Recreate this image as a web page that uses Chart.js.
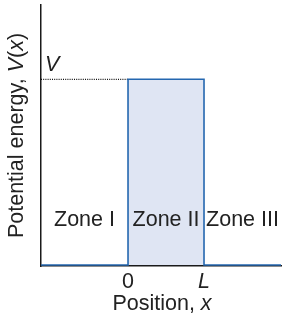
<!DOCTYPE html>
<html>
<head>
<meta charset="utf-8">
<script src="https://cdn.jsdelivr.net/npm/chart.js@4"></script>
<style>
html,body{margin:0;padding:0;background:#fff;}
#wrap{width:286px;height:321px;}
</style>
</head>
<body>
<div id="wrap"><canvas id="c" width="286" height="321"></canvas></div>
<script>
// Data
const xRange = [-1.145, 2.013];           // plotted position range (units of L)
const positions = [-1.145, 0, 0, 1, 1, 2.013];
const potential = [0, 0, 1, 1, 0, 0];      // V(x) in units of V
const barrierX = [0, 1];
const barrierV = [1, 1];
const levelX = [-1.145, 0];
const levelV = [1, 1];
const xTickValues = [0, 1];
const xTickLabels = ['0', 'L'];
const yTickValues = [1];
const yTickLabels = ['V'];
const zoneNames = ['Zone I', 'Zone II', 'Zone III'];
const zoneBounds = [-1.145, 0, 1, 2.013];
const zoneLabelV = 0.25;
const xTitleParts = [['Position, ', false], ['x', true]];
const yTitleParts = [['Potential energy, ', false], ['V', true], ['(', false], ['x', true], [')', false]];

const FONT = "'Liberation Sans', Arial, sans-serif";
const TXT = '#222';
const FS = 21.5;

function drawParts(ctx, parts, cx, cy, rot) {
  ctx.save();
  ctx.translate(cx, cy);
  if (rot) ctx.rotate(-Math.PI / 2);
  ctx.textBaseline = 'middle';
  ctx.textAlign = 'left';
  ctx.fillStyle = TXT;
  const fonts = parts.map(p => (p[1] ? 'italic ' : '') + FS + 'px ' + FONT);
  const widths = parts.map((p, i) => { ctx.font = fonts[i]; return ctx.measureText(p[0]).width; });
  let xx = -widths.reduce((a, b) => a + b, 0) / 2;
  parts.forEach((p, i) => { ctx.font = fonts[i]; ctx.fillText(p[0], xx, 0); xx += widths[i]; });
  ctx.restore();
}

const textPlugin = {
  id: 'texts',
  afterDatasetsDraw(chart) {
    const {ctx, scales:{x, y}, chartArea} = chart;
    ctx.save();
    ctx.font = FS + 'px ' + FONT;
    ctx.fillStyle = TXT;
    ctx.textAlign = 'center';
    ctx.textBaseline = 'middle';
    zoneNames.forEach((n, i) => {
      const cx = x.getPixelForValue((zoneBounds[i] + zoneBounds[i+1]) / 2);
      ctx.fillText(n, cx, y.getPixelForValue(zoneLabelV) + 1);
    });
    ctx.restore();
    drawParts(ctx, xTitleParts, (chartArea.left + chartArea.right) / 2 + 1, 304, false);
    drawParts(ctx, yTitleParts, 17, (chartArea.top + chartArea.bottom) / 2, true);
  }
};

new Chart(document.getElementById('c'), {
  type: 'line',
  data: {
    datasets: [
      {
        data: positions.map((p, i) => ({x: p, y: potential[i]})),
        borderColor: '#2467b0', borderWidth: 1.6, pointRadius: 0,
        tension: 0, fill: false, order: 0
      },
      {
        data: barrierX.map((p, i) => ({x: p, y: barrierV[i]})),
        borderColor: 'rgba(0,0,0,0)', borderWidth: 0, pointRadius: 0,
        backgroundColor: '#dfe5f3', fill: 'origin', order: 2
      },
      {
        data: levelX.map((p, i) => ({x: p, y: levelV[i]})),
        borderColor: '#111', borderWidth: 1.2, borderDash: [1, 1.2], pointRadius: 0,
        fill: false, order: 1
      }
    ]
  },
  options: {
    responsive: false,
    animation: false,
    events: [],
    layout: {padding: {top: 5, right: 5, left: 0, bottom: 0}},
    plugins: {legend: {display: false}, tooltip: {enabled: false}},
    scales: {
      x: {
        type: 'linear', min: xRange[0], max: xRange[1],
        grid: {display: false, drawTicks: false},
        border: {display: true, color: '#1a1a1a', width: 1.5},
        afterBuildTicks(s) { s.ticks = xTickValues.map(v => ({value: v})); },
        afterFit(s) { s.height = 55; s.paddingLeft = 0; s.paddingRight = 0; },
        ticks: {
          padding: 3, color: TXT, maxRotation: 0, autoSkip: false,
          font: (c) => ({family: FONT, size: FS, style: c.tick && c.tick.value === 1 ? 'italic' : 'normal'}),
          callback: (v) => { const i = xTickValues.indexOf(v); return i >= 0 ? xTickLabels[i] : ''; }
        },
        title: {display: false}
      },
      y: {
        type: 'linear', min: -0.005, max: 1.4,
        grid: {display: false, drawTicks: false},
        border: {display: true, color: '#1a1a1a', width: 1.5},
        afterBuildTicks(s) { s.ticks = yTickValues.map(v => ({value: v})); },
        afterFit(s) { s.width = 41; s.paddingTop = 0; s.paddingBottom = 0; },
        ticks: {
          mirror: true, padding: 4, labelOffset: -14, color: TXT,
          font: {family: FONT, size: FS, style: 'italic'},
          callback: (v) => { const i = yTickValues.indexOf(v); return i >= 0 ? yTickLabels[i] : ''; }
        },
        title: {display: false}
      }
    }
  },
  plugins: [textPlugin]
});
</script>
</body>
</html>
